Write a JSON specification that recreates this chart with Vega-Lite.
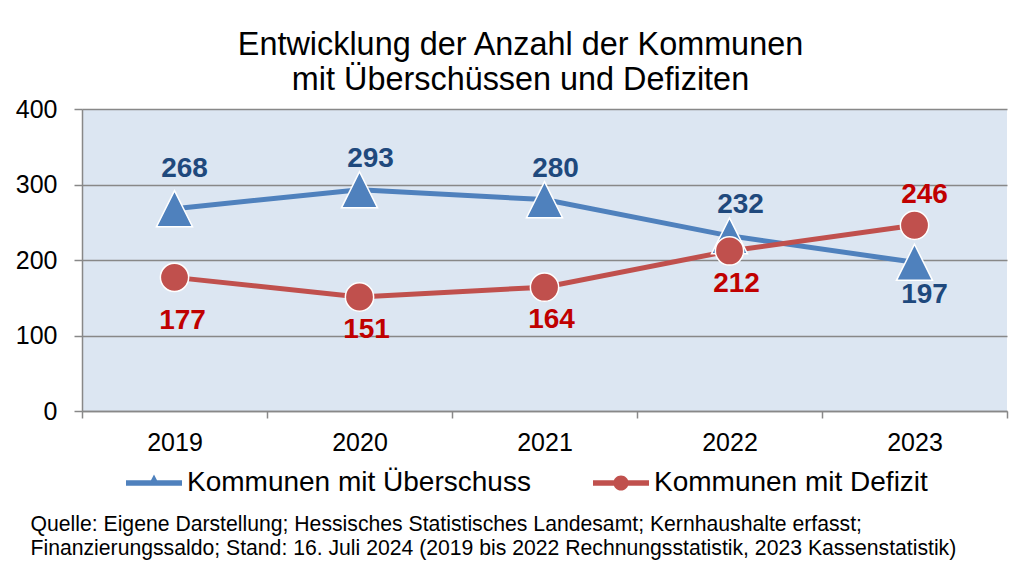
{
  "$schema": "https://vega.github.io/schema/vega-lite/v6.json",
  "width": 925,
  "height": 302,
  "autosize": {"type": "none"},
  "padding": {"left": 82, "top": 109, "right": 19, "bottom": 160},
  "background": "white",
  "config": {
    "font": "Liberation Sans",
    "view": {"stroke": null, "fill": "#dce6f2"}
  },
  "title": {
    "text": ["Entwicklung der Anzahl der Kommunen", "mit Überschüssen und Defiziten"],
    "anchor": "middle",
    "frame": "group",
    "dx": -24,
    "offset": 1,
    "fontSize": 32.4,
    "lineHeight": 35,
    "fontWeight": "normal",
    "color": "#000000"
  },
  "data": {
    "values": [
      {"year": "2019", "series": "Kommunen mit Überschuss", "value": 268},
      {"year": "2020", "series": "Kommunen mit Überschuss", "value": 293},
      {"year": "2021", "series": "Kommunen mit Überschuss", "value": 280},
      {"year": "2022", "series": "Kommunen mit Überschuss", "value": 232},
      {"year": "2023", "series": "Kommunen mit Überschuss", "value": 197},
      {"year": "2019", "series": "Kommunen mit Defizit", "value": 177},
      {"year": "2020", "series": "Kommunen mit Defizit", "value": 151},
      {"year": "2021", "series": "Kommunen mit Defizit", "value": 164},
      {"year": "2022", "series": "Kommunen mit Defizit", "value": 212},
      {"year": "2023", "series": "Kommunen mit Defizit", "value": 246}
    ]
  },
  "encoding": {
    "x": {
      "field": "year",
      "type": "ordinal",
      "scale": {"type": "band", "paddingInner": 0, "paddingOuter": 0},
      "axis": {
        "tickBand": "extent",
        "grid": false,
        "labelAngle": 0,
        "labelFontSize": 25,
        "labelColor": "#000000",
        "labelPadding": 12,
        "tickSize": 7,
        "tickColor": "#888888",
        "tickWidth": 1.5,
        "domainColor": "#888888",
        "domainWidth": 1.5,
        "title": ["Quelle: Eigene Darstellung; Hessisches Statistisches Landesamt; Kernhaushalte erfasst;", "Finanzierungssaldo; Stand: 16. Juli 2024 (2019 bis 2022 Rechnungsstatistik, 2023 Kassenstatistik)"],
        "titleX": -52,
        "titleY": 119,
        "titleAlign": "left",
        "titleAnchor": "start",
        "titleBaseline": "alphabetic",
        "titleFontSize": 21.2,
        "titleFontWeight": "normal",
        "titleLineHeight": 24,
        "titleColor": "#000000"
      }
    },
    "y": {
      "field": "value",
      "type": "quantitative",
      "scale": {"domain": [0, 400], "nice": false},
      "axis": {
        "values": [0, 100, 200, 300, 400],
        "title": null,
        "grid": true,
        "gridColor": "#888888",
        "gridWidth": 1.5,
        "domainColor": "#888888",
        "domainWidth": 1.5,
        "tickColor": "#888888",
        "tickWidth": 1.5,
        "tickSize": 8,
        "labelFontSize": 25,
        "labelColor": "#000000",
        "labelPadding": 17
      }
    }
  },
  "layer": [
    {
      "mark": {"type": "point", "filled": true, "size": 1},
      "encoding": {
        "color": {
          "field": "series",
          "type": "nominal",
          "scale": {"domain": ["Kommunen mit Überschuss", "Kommunen mit Defizit"], "range": ["#4f81bd", "#c0504d"]},
          "legend": {
            "orient": "none",
            "legendX": 44,
            "legendY": 346,
            "direction": "horizontal",
            "title": null,
            "padding": 0,
            "symbolSize": 3136,
            "symbolStrokeWidth": 0,
            "symbolOpacity": 1,
            "labelFontSize": 28,
            "labelColor": "#000000",
            "labelOffset": 5,
            "labelLimit": 600,
            "columnPadding": 62
          }
        },
        "shape": {
          "field": "series",
          "type": "nominal",
          "scale": {
            "domain": ["Kommunen mit Überschuss", "Kommunen mit Defizit"],
            "range": [
              "M-1,-0.1L1,-0.1L1,0.1L-1,0.1Z M0,-0.3L0.21,0.1L-0.21,0.1Z",
              "M-1,-0.1L1,-0.1L1,0.1L-1,0.1Z M-0.27,0A0.27,0.27 0 1,1 0.27,0A0.27,0.27 0 1,1 -0.27,0Z"
            ]
          },
          "legend": {
            "orient": "none",
            "legendX": 44,
            "legendY": 346,
            "direction": "horizontal",
            "title": null,
            "padding": 0,
            "symbolSize": 3136,
            "symbolStrokeWidth": 0,
            "symbolOpacity": 1,
            "labelFontSize": 28,
            "labelColor": "#000000",
            "labelOffset": 5,
            "labelLimit": 600,
            "columnPadding": 62
          }
        }
      }
    },
    {
      "transform": [{"filter": "datum.series === 'Kommunen mit Überschuss'"}],
      "mark": {"type": "line", "strokeWidth": 5, "color": "#4f81bd"}
    },
    {
      "transform": [{"filter": "datum.series === 'Kommunen mit Defizit'"}],
      "mark": {"type": "line", "strokeWidth": 5, "color": "#c0504d"}
    },
    {
      "transform": [{"filter": "datum.series === 'Kommunen mit Überschuss'"}],
      "mark": {"type": "point", "filled": true, "opacity": 1, "color": "#4f81bd", "shape": "M0,-1L1,1L-1,1Z", "size": 1300, "stroke": "white", "strokeWidth": 1.5}
    },
    {
      "transform": [{"filter": "datum.series === 'Kommunen mit Defizit'"}],
      "mark": {"type": "point", "filled": true, "opacity": 1, "color": "#c0504d", "shape": "circle", "size": 800, "stroke": "white", "strokeWidth": 1.5}
    },
    {
      "transform": [{"filter": "datum.series === 'Kommunen mit Überschuss' && datum.year === '2019'"}],
      "mark": {"type": "text", "fontSize": 28, "fontWeight": "bold", "dy": -40, "dx": 10, "baseline": "middle"},
      "encoding": {"text": {"field": "value", "type": "quantitative"}, "color": {"value": "#1f497d"}}
    },
    {
      "transform": [{"filter": "datum.series === 'Kommunen mit Überschuss' && datum.year !== '2023' && datum.year !== '2019'"}],
      "mark": {"type": "text", "fontSize": 28, "fontWeight": "bold", "dy": -31, "dx": 11, "baseline": "middle"},
      "encoding": {"text": {"field": "value", "type": "quantitative"}, "color": {"value": "#1f497d"}}
    },
    {
      "transform": [{"filter": "datum.series === 'Kommunen mit Überschuss' && datum.year === '2023'"}],
      "mark": {"type": "text", "fontSize": 28, "fontWeight": "bold", "dy": 33, "dx": 10, "baseline": "middle"},
      "encoding": {"text": {"field": "value", "type": "quantitative"}, "color": {"value": "#1f497d"}}
    },
    {
      "transform": [{"filter": "datum.series === 'Kommunen mit Defizit' && datum.year === '2019'"}],
      "mark": {"type": "text", "fontSize": 28, "fontWeight": "bold", "dy": 44, "dx": 8, "baseline": "middle"},
      "encoding": {"text": {"field": "value", "type": "quantitative"}, "color": {"value": "#c00000"}}
    },
    {
      "transform": [{"filter": "datum.series === 'Kommunen mit Defizit' && datum.year !== '2023' && datum.year !== '2019'"}],
      "mark": {"type": "text", "fontSize": 28, "fontWeight": "bold", "dy": 33, "dx": 7, "baseline": "middle"},
      "encoding": {"text": {"field": "value", "type": "quantitative"}, "color": {"value": "#c00000"}}
    },
    {
      "transform": [{"filter": "datum.series === 'Kommunen mit Defizit' && datum.year === '2023'"}],
      "mark": {"type": "text", "fontSize": 28, "fontWeight": "bold", "dy": -30, "dx": 10, "baseline": "middle"},
      "encoding": {"text": {"field": "value", "type": "quantitative"}, "color": {"value": "#c00000"}}
    }
  ]
}
